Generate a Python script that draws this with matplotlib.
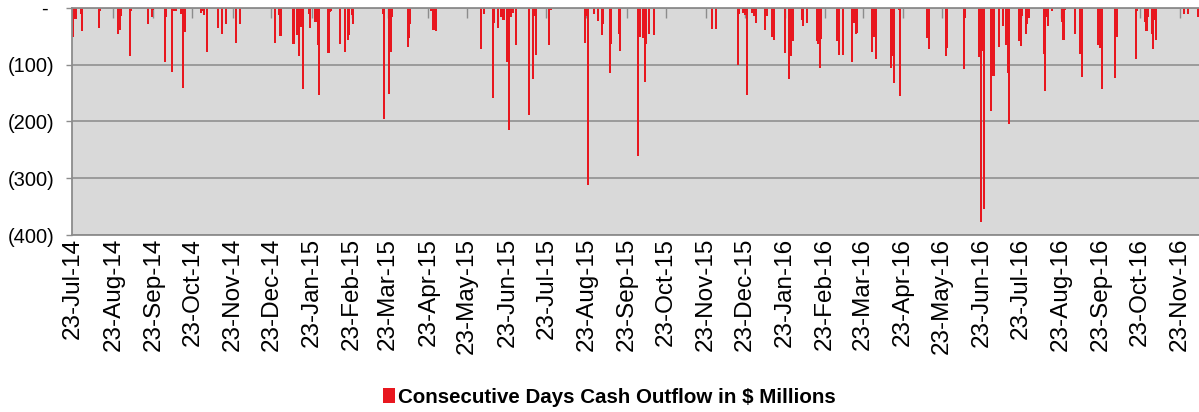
import matplotlib
matplotlib.use("Agg")
import matplotlib.pyplot as plt
import matplotlib.dates as mdates
from matplotlib.patches import Patch
from matplotlib.ticker import FuncFormatter
import numpy as np
import pandas as pd

# days counted from 23-Jul-14, outflow in $ millions
start_date = "2014-07-23"
offset_days = [
    0, 1, 2, 6, 7, 20, 21, 35, 36, 37, 44, 45, 58, 61, 62, 71, 72, 76, 77, 78,
    79, 83, 85, 86, 99, 100, 101, 103, 112, 115, 118, 126, 129, 156, 159, 160,
    170, 173, 174, 176, 177, 182, 183, 187, 189, 190, 197, 198, 199, 206, 210,
    212, 213, 215, 216, 239, 240, 244, 245, 246, 258, 259, 260, 276, 278, 280,
    315, 317, 324, 325, 328, 330, 332, 335, 336, 337, 338, 339, 342, 352, 355,
    356, 357, 367, 369, 395, 396, 397, 402, 405, 408, 409, 414, 415, 421, 422,
    436, 437, 440, 441, 442, 444, 448, 493, 496, 513, 514, 517, 518, 520, 524,
    525, 526, 527, 534, 535, 539, 541, 549, 552, 554, 555, 562, 563, 566, 574,
    575, 576, 577, 589, 591, 594, 601, 602, 604, 605, 616, 618, 619, 631, 632,
    633, 637, 638, 659, 660, 673, 674, 687, 688, 699, 700, 701, 702, 703, 708,
    709, 710, 714, 717, 720, 721, 722, 730, 731, 732, 735, 736, 737, 749, 750,
    751, 752, 755, 763, 764, 765, 773, 777, 778, 791, 792, 793, 794, 804, 805,
    820, 821, 827, 828, 829, 832, 833, 834, 835, 857, 860, 868,
]
outflow = [
    51, 20, 20, 11, 41, 36, 6, 46, 38, 14, 85, 5, 29, 16, 4, 95, 16, 112, 6, 4,
    5, 10, 141, 43, 8, 5, 13, 77, 35, 45, 28, 61, 29, 61, 12, 49,
    63, 47, 85, 34, 143, 11, 35, 25, 65, 153, 79, 7, 5, 63, 77,
    57, 47, 12, 28, 11, 195, 151, 77, 15, 69, 52, 29, 5, 39, 41,
    72, 11, 159, 26, 35, 16, 21, 96, 215, 13, 16, 8, 65, 189, 125,
    14, 82, 66, 4, 61, 14, 312, 11, 23, 47, 29, 115, 63, 45, 75,
    261, 51, 53, 131, 63, 45, 47, 37, 37, 101, 11, 8, 12, 154, 8,
    14, 12, 27, 39, 14, 51, 57, 79, 125, 84, 59, 22, 32, 27, 59,
    63, 105, 55, 59, 83, 83, 96, 27, 46, 44, 78, 51, 89, 105, 85,
    133, 4, 155, 52, 73, 85, 71, 108, 18, 87, 377, 75, 61, 355, 181,
    71, 119, 69, 31, 65, 115, 204, 59, 67, 14, 45, 28, 17, 81, 147,
    15, 31, 5, 25, 57, 4, 46, 81, 121, 65, 71, 30, 143, 123, 51,
    89, 6, 25, 41, 16, 45, 73, 21, 57, 11, 11, 16,
]
y_ticks = [0, -100, -200, -300, -400]
legend_label = "Consecutive Days Cash Outflow in $ Millions"

plt.rcParams["font.family"] = ["Liberation Sans", "DejaVu Sans"]

start = pd.Timestamp(start_date)
dates = start + pd.to_timedelta(offset_days, unit="D")
values = -np.array(outflow, dtype=float)

fig = plt.figure(figsize=(11.99, 4.12), dpi=100)
ax = fig.add_axes([0.0603, 0.4296, 0.9397, 0.5510])
ax.set_facecolor("#D9D9D9")
ax.set_axisbelow(True)

ax.bar(dates, values, width=1.6, color="#E8171F", linewidth=0, align="center")

ax.set_xlim(start - pd.Timedelta(days=0.6), start + pd.Timedelta(days=868.5))
ax.set_ylim(-400, 0)
ax.set_yticks(y_ticks)
ax.yaxis.set_major_formatter(
    FuncFormatter(lambda v, p: "- " if v == 0 else f"({abs(v):.0f})"))
ax.grid(axis="y", color="#969696", linewidth=1.3)

ax.xaxis.set_major_locator(mdates.MonthLocator(bymonthday=23))
ax.xaxis.set_major_formatter(mdates.DateFormatter("%d-%b-%y"))
ax.tick_params(axis="x", top=True, bottom=False, labeltop=False,
               labelbottom=True, direction="in", length=7, width=1,
               color="#8C8C8C", labelsize=17.5, rotation=90, pad=2)
ax.tick_params(axis="y", direction="out", length=4, width=1,
               color="#8C8C8C", labelsize=14.5, pad=9)

for side in ["left", "top", "bottom"]:
    ax.spines[side].set_color("#8C8C8C")
    ax.spines[side].set_linewidth(1.3)
ax.spines["right"].set_visible(False)

fig.legend(handles=[Patch(facecolor="#E8171F", label=legend_label)],
           loc="center", bbox_to_anchor=(0.508, 0.036), frameon=False,
           handlelength=0.6, handleheight=0.8, handletextpad=0.12,
           prop={"weight": "bold", "size": 14.8})

fig.savefig("out.png", dpi=100)
